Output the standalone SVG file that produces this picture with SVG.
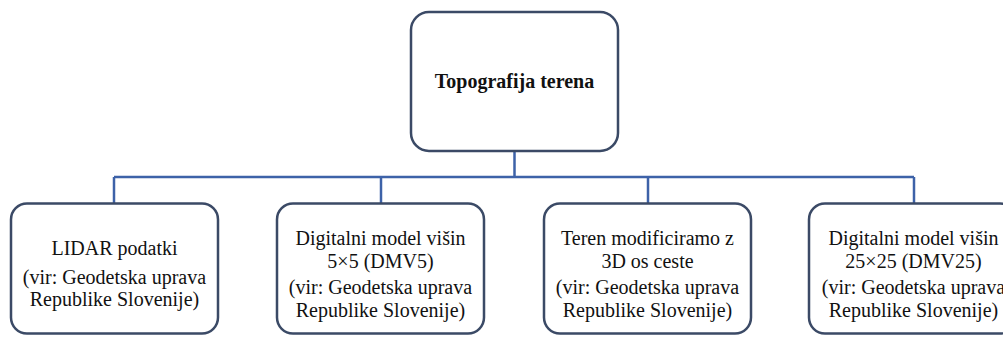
<svg xmlns="http://www.w3.org/2000/svg" width="1003" height="337" viewBox="0 0 1003 337">
  <style>
    .box { fill: #ffffff; stroke: #3b4a66; stroke-width: 2.5; }
    .link { fill: none; stroke: #3d62a8; stroke-width: 2.5; }
  </style>
  <rect width="1003" height="337" fill="#ffffff"/>

  <!-- tree connectors -->
  <g id="connectors">
    <path class="link" d="M514.5,151 V177"/>
    <path class="link" d="M114,177 H914"/>
    <path class="link" d="M114,177 V203.5"/>
    <path class="link" d="M381,177 V203.5"/>
    <path class="link" d="M648,177 V203.5"/>
    <path class="link" d="M914,177 V203.5"/>
  </g>

  <g id="root" font-family="Liberation Serif, Times New Roman, serif" font-size="20" fill="#111111" text-anchor="middle">
    <rect class="box" x="411" y="12" width="207" height="139" rx="18"/>
    <text x="514.5" y="88" font-weight="bold">Topografija terena</text>
  </g>

  <g id="lidar" font-family="Liberation Serif, Times New Roman, serif" font-size="20" fill="#111111" text-anchor="middle">
    <rect class="box" x="11" y="203.5" width="207" height="130" rx="16"/>
    <text x="114.5" y="255">LIDAR podatki</text>
    <text x="114.5" y="284">(vir: Geodetska uprava</text>
    <text x="114.5" y="306">Republike Slovenije)</text>
  </g>

  <g id="dmv5" font-family="Liberation Serif, Times New Roman, serif" font-size="20" fill="#111111" text-anchor="middle">
    <rect class="box" x="277" y="203.5" width="207" height="130" rx="16"/>
    <text x="380.5" y="245">Digitalni model višin</text>
    <text x="380.5" y="267.5">5×5 (DMV5)</text>
    <text x="380.5" y="293.5">(vir: Geodetska uprava</text>
    <text x="380.5" y="316.5">Republike Slovenije)</text>
  </g>

  <g id="os-ceste" font-family="Liberation Serif, Times New Roman, serif" font-size="20" fill="#111111" text-anchor="middle">
    <rect class="box" x="544" y="203.5" width="207" height="130" rx="16"/>
    <text x="647.5" y="245">Teren modificiramo z</text>
    <text x="647.5" y="267.5">3D os ceste</text>
    <text x="647.5" y="293.5">(vir: Geodetska uprava</text>
    <text x="647.5" y="316.5">Republike Slovenije)</text>
  </g>

  <g id="dmv25" font-family="Liberation Serif, Times New Roman, serif" font-size="20" fill="#111111" text-anchor="middle">
    <rect class="box" x="809" y="203.5" width="207" height="130" rx="16"/>
    <text x="913.5" y="245">Digitalni model višin</text>
    <text x="913.5" y="267.5">25×25 (DMV25)</text>
    <text x="913.5" y="293.5">(vir: Geodetska uprava</text>
    <text x="913.5" y="316.5">Republike Slovenije)</text>
  </g>
</svg>
